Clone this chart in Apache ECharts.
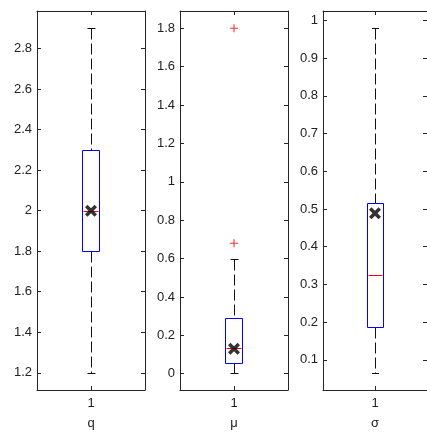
<!DOCTYPE html>
<html>
<head>
<meta charset="utf-8">
<script src="https://cdn.jsdelivr.net/npm/echarts@6/dist/echarts.min.js"></script>
<style>
html,body{margin:0;padding:0;background:#fff;}
#c{width:427px;height:435px;}
</style>
</head>
<body>
<div id="c"></div>
<script>
// ---- data ----
var categories = ['q', 'μ', 'σ'];
var xTickLabel = ['1'];
var whiskerLow  = [1.2, 0.005, 0.066];
var q1Values    = [1.8, 0.057, 0.187];
var medians     = [2.0, 0.135, 0.326];
var q3Values    = [2.3, 0.29, 0.515];
var whiskerHigh = [2.9, 0.6, 0.98];
var means       = [2.0, 0.13, 0.489];
var outliers    = [[], [0.68, 1.8], []];
var yMin = [1.115, -0.085, 0.02];
var yMax = [2.985, 1.89, 1.025];
var tickQ = [1.2, 1.4, 1.6, 1.8, 2, 2.2, 2.4, 2.6, 2.8];
var tickMu = [0, 0.2, 0.4, 0.6, 0.8, 1, 1.2, 1.4, 1.6, 1.8];
var tickSigma = [0.1, 0.2, 0.3, 0.4, 0.5, 0.6, 0.7, 0.8, 0.9, 1];
var yTicks = [tickQ, tickMu, tickSigma];

// ---- layout ----
var gridLefts = [37, 180, 323];
var gridWidth = 108;
var axisColor = '#262626';
var font = '"Liberation Sans", Arial, sans-serif';
var fontSize = 13;

var grids = [], xAxes = [], yAxes = [], series = [];
var xPath = 'path://M0,2.5 L2.5,0 L6,3.5 L9.5,0 L12,2.5 L8.5,6 L12,9.5 L9.5,12 L6,8.5 L2.5,12 L0,9.5 L3.5,6 Z';
var plusPath = 'path://M0,3 L7,3 L7,4 L0,4 Z M3,0 L4,0 L4,7 L3,7 Z';

function fmt(v) { return String(+Number(v).toFixed(3)); }

function renderBox(params, api) {
  var band = api.size([1, 0])[0];
  var bw = Math.round(band * 0.155);
  var cw = Math.round(bw * 0.45);
  var pLo = api.coord([api.value(0), api.value(1)]);
  var pQ1 = api.coord([api.value(0), api.value(2)]);
  var pMed = api.coord([api.value(0), api.value(3)]);
  var pQ3 = api.coord([api.value(0), api.value(4)]);
  var pHi = api.coord([api.value(0), api.value(5)]);
  var cx = Math.round(pLo[0]) + 0.5;
  var yLo = Math.round(pLo[1]) + 0.5, yQ1 = Math.round(pQ1[1]) + 0.5;
  var yMed = Math.round(pMed[1]) + 0.5, yQ3 = Math.round(pQ3[1]) + 0.5;
  var yHi = Math.round(pHi[1]) + 0.5;
  var bx = cx - Math.round(bw / 2);
  return {
    type: 'group',
    children: [
      {type: 'line', shape: {x1: cx, y1: yHi, x2: cx, y2: yQ3},
        style: {stroke: '#111', fill: null, lineWidth: 1, lineDash: [11, 4]}},
      {type: 'line', shape: {x1: cx, y1: yQ1, x2: cx, y2: yLo},
        style: {stroke: '#111', fill: null, lineWidth: 1, lineDash: [11, 4]}},
      {type: 'line', shape: {x1: cx - cw / 2, y1: yHi, x2: cx + cw / 2, y2: yHi},
        style: {stroke: '#111', fill: null, lineWidth: 1}},
      {type: 'line', shape: {x1: cx - cw / 2, y1: yLo, x2: cx + cw / 2, y2: yLo},
        style: {stroke: '#111', fill: null, lineWidth: 1}},
      {type: 'rect', shape: {x: bx, y: yQ3, width: bw, height: yQ1 - yQ3},
        style: {fill: '#ffffff', stroke: '#0000ff', lineWidth: 1}},
      {type: 'line', shape: {x1: bx + 1, y1: yMed, x2: bx + bw - 1, y2: yMed},
        style: {stroke: '#ff0000', fill: null, lineWidth: 1}}
    ]
  };
}

for (var i = 0; i < 3; i++) {
  grids.push({left: gridLefts[i], width: gridWidth, top: 11, bottom: 43, show: false});
  xAxes.push({
    gridIndex: i, type: 'category', data: xTickLabel, position: 'bottom',
    axisLine: {show: true, onZero: false, lineStyle: {color: axisColor, width: 1}},
    axisTick: {show: true, inside: true, length: 4, alignWithLabel: true, lineStyle: {color: axisColor}},
    axisLabel: {show: true, color: '#222', fontFamily: font, fontSize: fontSize, margin: 7},
    name: categories[i], nameLocation: 'middle', nameGap: 27,
    nameTextStyle: {color: '#222', fontFamily: font, fontSize: fontSize}
  });
  xAxes.push({
    gridIndex: i, type: 'category', data: xTickLabel, position: 'top',
    axisLine: {show: true, onZero: false, lineStyle: {color: axisColor, width: 1}},
    axisTick: {show: true, inside: true, length: 4, alignWithLabel: true, lineStyle: {color: axisColor}},
    axisLabel: {show: false}
  });
  yAxes.push({
    gridIndex: i, type: 'value', position: 'left', min: yMin[i], max: yMax[i],
    axisLine: {show: true, onZero: false, lineStyle: {color: axisColor, width: 1}},
    axisTick: {show: true, inside: true, length: 4, customValues: yTicks[i], lineStyle: {color: axisColor}},
    axisLabel: {show: true, customValues: yTicks[i], formatter: fmt, color: '#222', fontFamily: font, fontSize: fontSize, margin: 5},
    splitLine: {show: false}
  });
  yAxes.push({
    gridIndex: i, type: 'value', position: 'right', min: yMin[i], max: yMax[i],
    axisLine: {show: true, onZero: false, lineStyle: {color: axisColor, width: 1}},
    axisTick: {show: true, inside: true, length: 4, customValues: yTicks[i], lineStyle: {color: axisColor}},
    axisLabel: {show: false},
    splitLine: {show: false}
  });

  series.push({
    type: 'custom',
    xAxisIndex: i * 2, yAxisIndex: i * 2,
    z: 2, silent: true,
    encode: {x: 0, y: [1, 2, 3, 4, 5]},
    data: [[0, whiskerLow[i], q1Values[i], medians[i], q3Values[i], whiskerHigh[i]]],
    renderItem: renderBox
  });

  series.push({
    type: 'scatter', xAxisIndex: i * 2, yAxisIndex: i * 2, z: 4, silent: true,
    symbol: xPath, symbolSize: 12,
    itemStyle: {color: '#000'},
    data: [[0, means[i]]]
  });

  series.push({
    type: 'scatter', xAxisIndex: i * 2, yAxisIndex: i * 2, z: 3, silent: true,
    symbol: plusPath, symbolSize: 8,
    itemStyle: {color: '#ff0000'},
    data: outliers[i].map(function (v) { return [0, v]; })
  });
}

var chart = echarts.init(document.getElementById('c'), null, {renderer: 'canvas'});
chart.setOption({
  animation: false,
  backgroundColor: '#fff',
  grid: grids,
  xAxis: xAxes,
  yAxis: yAxes,
  series: series
});
</script>
</body>
</html>
